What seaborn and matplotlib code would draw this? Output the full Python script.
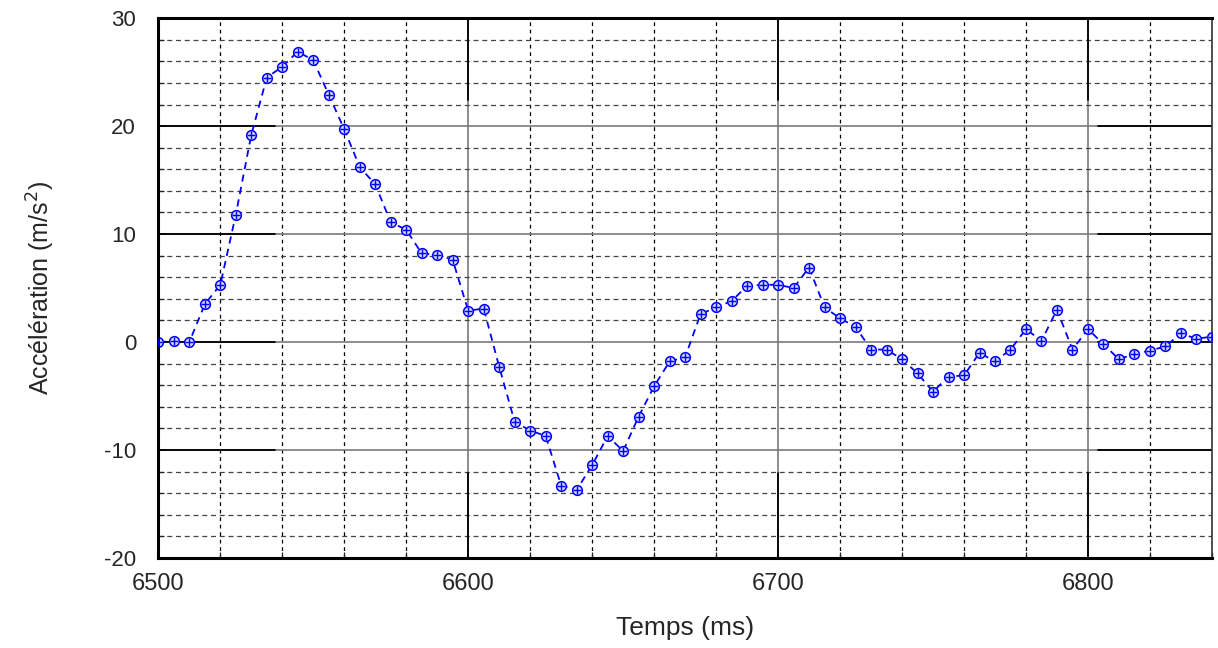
import numpy as np
import pandas as pd
import matplotlib
matplotlib.use("Agg")
import matplotlib.pyplot as plt
import seaborn as sns
from matplotlib.ticker import MultipleLocator

# Data
temps = list(range(6500, 6845, 5))
acceleration = [0.0, 0.1, 0.0, 3.5, 5.3, 11.8, 19.2, 24.5, 25.5, 26.9,
                26.1, 22.9, 19.7, 16.2, 14.6, 11.1, 10.4, 8.2, 8.1, 7.6,
                2.9, 3.1, -2.3, -7.4, -8.2, -8.7, -13.3, -13.7, -11.4, -8.7,
                -10.1, -6.9, -4.1, -1.8, -1.4, 2.6, 3.2, 3.8, 5.2, 5.3,
                5.3, 5.0, 6.9, 3.2, 2.2, 1.4, -0.7, -0.7, -1.6, -2.9,
                -4.6, -3.2, -3.1, -1.0, -1.8, -0.7, 1.2, 0.1, 3.0, -0.7,
                1.2, -0.2, -1.6, -1.1, -0.8, -0.4, 0.8, 0.3, 0.5]
xticks = [6500, 6600, 6700, 6800]
yticks = [-20, -10, 0, 10, 20, 30]

df = pd.DataFrame({"Temps": temps, "Acc": acceleration})

sns.set_theme(style="white")
plt.rcParams['font.family'] = ['Liberation Sans', 'DejaVu Sans']

fig = plt.figure(figsize=(12.18, 6.48), dpi=100)
ax = fig.add_axes([0.13, 0.139, 0.865, 0.833])

ax.set_xlim(6500, 6840)
ax.set_ylim(-20, 30)

# Grid
ax.xaxis.set_major_locator(MultipleLocator(100))
ax.xaxis.set_minor_locator(MultipleLocator(20))
ax.yaxis.set_major_locator(MultipleLocator(10))
ax.yaxis.set_minor_locator(MultipleLocator(2))
ax.grid(which='minor', axis='x', color='black', linestyle=(0, (3, 3)), linewidth=0.9)
ax.grid(which='minor', axis='y', color='#444444', linestyle=(0, (4, 3)), linewidth=0.9)
ax.grid(which='major', axis='both', color='#7a7a7a', linestyle='-', linewidth=1.2)
ax.set_axisbelow(True)
for yv in yticks[1:-1]:
    ax.axhline(yv, xmin=0, xmax=0.111, color='black', linewidth=1.3, zorder=0.6)
    ax.axhline(yv, xmin=0.892, xmax=1, color='black', linewidth=1.3, zorder=0.6)
for xv in xticks[1:]:
    ax.axvline(xv, ymin=0.848, ymax=1, color='black', linewidth=1.3, zorder=0.6)
    ax.axvline(xv, ymin=0, ymax=0.157, color='black', linewidth=1.3, zorder=0.6)

sns.lineplot(data=df, x="Temps", y="Acc", ax=ax, color='blue',
             linestyle=(0, (4, 3)), linewidth=1.3, marker='o', markersize=7,
             markerfacecolor='#d0d4ff', markeredgecolor='blue', markeredgewidth=1.1)
sns.scatterplot(data=df, x="Temps", y="Acc", ax=ax, marker='+', s=30,
                color='blue', linewidth=1.0, zorder=5)

ax.set_xticks(xticks)
ax.set_xticklabels([str(v) for v in xticks], fontsize=17)
ax.set_yticks(yticks)
ax.set_yticklabels([str(v) for v in yticks], fontsize=16)
ax.tick_params(axis='x', which='major', direction='in', length=6, width=1.2, pad=11)
ax.tick_params(axis='y', which='major', direction='in', length=6, width=1.2, pad=16)
ax.tick_params(axis='both', which='minor', direction='in', length=4, width=0.9)
ax.tick_params(axis='y', which='both', left=True, right=False)
ax.tick_params(axis='x', which='both', bottom=True, top=False)

for s in ['left', 'bottom', 'top']:
    ax.spines[s].set_color('black')
    ax.spines[s].set_linewidth(2.2)
ax.spines['right'].set_color('#333333')
ax.spines['right'].set_linewidth(1.2)

ax.set_xlabel("Temps (ms)", fontsize=19, labelpad=15)
ax.set_ylabel("Accélération (m/s$^{2}$)", fontsize=18, labelpad=34)

fig.savefig("out.png", dpi=100)
